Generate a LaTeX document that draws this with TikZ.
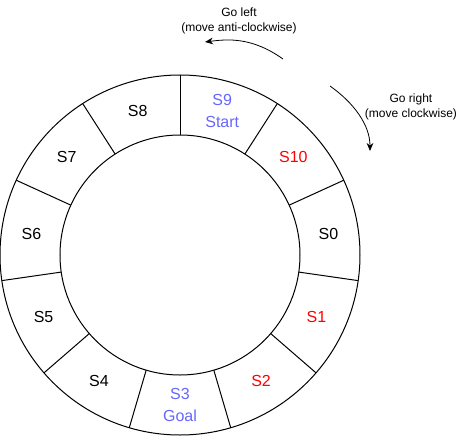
\documentclass[tikz,border=0pt]{standalone}
\usepackage{fontspec}
\setmainfont{Liberation Sans}
\usetikzlibrary{arrows.meta}
\definecolor{startblue}{RGB}{102,102,255}
\definecolor{stepred}{RGB}{255,0,0}

\begin{document}
\begin{tikzpicture}
[x=0.75pt, y=0.75pt, line width=0.75pt,
statelabel/.style={align=center, inner sep=0pt, font=\fontsize{12}{16}\selectfont},
hintlabel/.style={align=center, inner sep=0pt, font=\fontsize{9}{11.25}\selectfont},
connect/.style={-{Stealth[length=6pt, width=5pt]}, line width=0.6pt}]
\useasboundingbox (-180, -181) rectangle (291, 255);

\draw (0, 0) circle (180);
\draw (0, 0) circle (120);
\draw (90:120) -- (90:180);
\draw (57.273:120) -- (57.273:180);
\draw (24.545:120) -- (24.545:180);
\draw (-8.182:120) -- (-8.182:180);
\draw (-40.909:120) -- (-40.909:180);
\draw (-73.636:120) -- (-73.636:180);
\draw (-106.364:120) -- (-106.364:180);
\draw (-139.091:120) -- (-139.091:180);
\draw (-171.818:120) -- (-171.818:180);
\draw (155.455:120) -- (155.455:180);
\draw (122.727:120) -- (122.727:180);

\node[statelabel, text=startblue]	(s9) at (73.636:150) {S9\\Start};
\node[statelabel, text=stepred]	(s10) at (40.909:150) {S10};
\node[statelabel]	(s0) at (8.182:150) {S0};
\node[statelabel, text=stepred]	(s1) at (-24.545:150) {S1};
\node[statelabel, text=stepred]	(s2) at (-57.273:150) {S2};
\node[statelabel, text=startblue]	(s3) at (-90:150) {S3\\Goal};
\node[statelabel]	(s4) at (-122.727:150) {S4};
\node[statelabel]	(s5) at (-155.455:150) {S5};
\node[statelabel]	(s6) at (171.818:150) {S6};
\node[statelabel]	(s7) at (139.091:150) {S7};
\node[statelabel]	(s8) at (106.364:150) {S8};

\node[hintlabel]	(goleft) at (59, 234.5) {Go left\\(move anti-clockwise)};
\node[hintlabel]	(goright) at (231, 148.5) {Go right\\(move clockwise)};
\coordinate (leftstart) at (103, 196);
\coordinate (leftend) at (25, 213);
\coordinate (rightstart) at (150, 169);
\coordinate (rightend) at (190, 104);
\draw[connect] (leftstart) .. controls (72, 218) and (48, 216) .. (leftend);
\draw[connect] (rightstart) .. controls (174, 152) and (190, 130) .. (rightend);

\end{tikzpicture}
\end{document}
